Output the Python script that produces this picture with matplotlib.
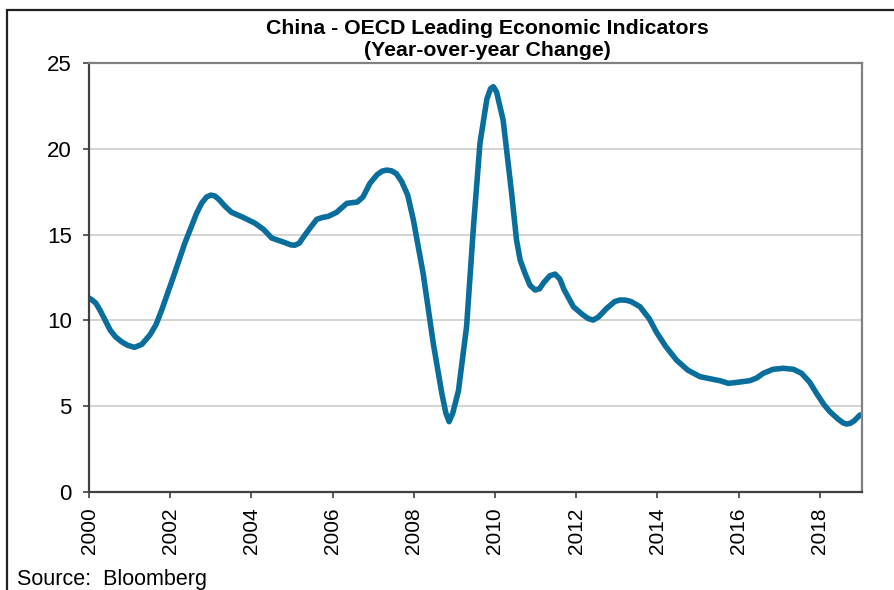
import matplotlib
matplotlib.use("Agg")
import matplotlib.pyplot as plt
from matplotlib.patches import Rectangle

plt.rcParams['font.family'] = ['Liberation Sans', 'DejaVu Sans']

# year-over-year change
years = [2000.0, 2000.07, 2000.17, 2000.27, 2000.4, 2000.52, 2000.65, 2000.8, 2000.95,
         2001.12, 2001.3, 2001.5, 2001.65, 2001.79,
         2002.08, 2002.36, 2002.65, 2002.78, 2002.9, 2003.0, 2003.1, 2003.2, 2003.35, 2003.51, 2003.8,
         2004.09, 2004.3, 2004.5, 2004.83, 2004.97, 2005.07, 2005.18, 2005.28, 2005.45, 2005.61,
         2005.75, 2005.89, 2006.1, 2006.35, 2006.61, 2006.75, 2006.92, 2007.1, 2007.22, 2007.33,
         2007.45, 2007.57, 2007.7, 2007.85, 2007.99, 2008.23, 2008.48, 2008.69, 2008.79, 2008.87,
         2008.96, 2009.1, 2009.3, 2009.47, 2009.63, 2009.8, 2009.89, 2009.96, 2010.04, 2010.2,
         2010.41, 2010.53, 2010.62, 2010.74, 2010.86, 2010.99, 2011.1, 2011.2, 2011.35, 2011.48, 2011.6, 2011.7,
         2011.93, 2012.15, 2012.3, 2012.42, 2012.55, 2012.75, 2012.95, 2013.08, 2013.22, 2013.35, 2013.57, 2013.8,
         2013.98, 2014.2, 2014.47, 2014.75, 2015.05, 2015.38, 2015.55, 2015.75, 2016.0,
         2016.28, 2016.45, 2016.61, 2016.85, 2017.1, 2017.35, 2017.55, 2017.75, 2017.92,
         2018.1, 2018.25, 2018.45, 2018.58, 2018.66, 2018.75, 2018.85, 2018.99]
values = [11.3, 11.2, 11.0, 10.6, 10.0, 9.44, 9.05, 8.76, 8.55,
          8.43, 8.6, 9.15, 9.75, 10.6,
          12.55, 14.5, 16.24, 16.85, 17.2, 17.3, 17.25, 17.05, 16.65, 16.3, 16.0,
          15.66, 15.3, 14.8, 14.53, 14.4, 14.38, 14.5, 14.85, 15.4, 15.89,
          16.0, 16.06, 16.3, 16.82, 16.9, 17.2, 17.99, 18.5, 18.7, 18.76,
          18.72, 18.55, 18.1, 17.3, 15.85, 12.74, 8.66, 5.75, 4.6, 4.1,
          4.6, 5.9, 9.63, 15.46, 20.32, 22.9, 23.5, 23.62, 23.3, 21.68,
          17.41, 14.69, 13.52, 12.74, 12.05, 11.77, 11.85, 12.2, 12.6, 12.7, 12.4, 11.8,
          10.8, 10.35, 10.1, 10.02, 10.2, 10.7, 11.1, 11.19, 11.18, 11.1, 10.8, 10.1,
          9.3, 8.5, 7.69, 7.1, 6.72, 6.56, 6.48, 6.33, 6.4,
          6.49, 6.65, 6.92, 7.15, 7.21, 7.15, 6.92, 6.4, 5.75,
          5.1, 4.68, 4.25, 4.02, 3.96, 4.0, 4.15, 4.49]

xticks = [2000, 2002, 2004, 2006, 2008, 2010, 2012, 2014, 2016, 2018]
yticks = [0, 5, 10, 15, 20, 25]

fig = plt.figure(figsize=(8.94, 5.9), dpi=100)
ax = fig.add_axes([89/894, 1 - 492/590, (862 - 89)/894, (492 - 63)/590])

ax.plot(years, values, color='#0A6E9C', lw=4.0, solid_capstyle='round', solid_joinstyle='round')

ax.set_xlim(2000, 2019.04)
ax.set_ylim(0, 25)
ax.set_xticks(xticks)
ax.set_yticks(yticks)
ax.set_xticklabels([str(x) for x in xticks], rotation=90, fontsize=15)
ax.set_yticklabels([str(y) for y in yticks], fontsize=16)
ax.tick_params(axis='x', direction='out', length=4, width=1.2, color='#404040', pad=7)
ax.tick_params(axis='y', direction='out', length=4.5, width=1.2, color='#404040', pad=8)

ax.grid(axis='y', color='#C8C8C8', lw=1.1)
ax.set_axisbelow(True)
for s in ['left', 'bottom']:
    ax.spines[s].set_color('#404040')
    ax.spines[s].set_linewidth(1.6)
for s in ['top', 'right']:
    ax.spines[s].set_color('#808080')
    ax.spines[s].set_linewidth(1.6)

fig.text(487/894, 1 - 28/590, 'China - OECD Leading Economic Indicators',
         ha='center', va='center', fontsize=15.3, fontweight='bold')
fig.text(487/894, 1 - 50/590, '(Year-over-year Change)',
         ha='center', va='center', fontsize=15.3, fontweight='bold')
fig.text(17/894, 1 - 580/590, 'Source:  Bloomberg', ha='left', va='center', fontsize=15.5)

fig.patches.append(Rectangle((7/894, -0.1), 1.2, 1.1 - 10/590, transform=fig.transFigure,
                             fill=False, edgecolor='#202020', lw=1.6))

fig.savefig('out.png', dpi=100)
